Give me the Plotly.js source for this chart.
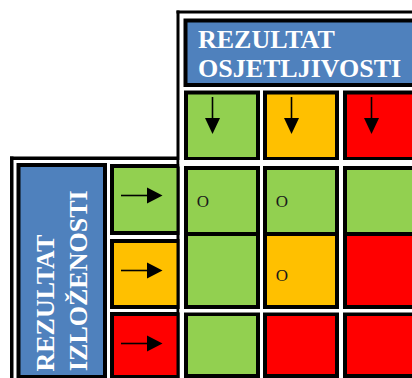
<!DOCTYPE html>
<html>
<head>
<meta charset="utf-8">
<script src="https://cdn.plot.ly/plotly-3.0.1.min.js"></script>
<style>html,body{margin:0;padding:0;background:#fff;}#chart{width:412px;height:378px;}</style>
</head>
<body>
<div id="chart"></div>
<script>
// ---- data ----
const levels = ['nisko', 'srednje', 'visoko'];
const sensitivityLevels = ['nisko', 'srednje', 'visoko'];   // column headers (arrows down)
const exposureLevels = ['nisko', 'srednje', 'visoko'];      // row headers (arrows right)
const riskMatrix = [
  ['nisko', 'nisko', 'nisko'],
  ['nisko', 'srednje', 'visoko'],
  ['nisko', 'visoko', 'visoko']
];
const markMatrix = [
  ['O', 'O', ''],
  ['', 'O', ''],
  ['', '', '']
];
const topTitle = ['REZULTAT', 'OSJETLJIVOSTI'];
const leftTitle = ['REZULTAT', 'IZLOŽENOSTI'];

// ---- style ----
const palette = {nisko: '#92D050', srednje: '#FFC000', visoko: '#FF0000'};
const BLUE = '#4F81BD', BLACK = '#000000', WHITE = '#FFFFFF';
const FONT = '"Liberation Serif", "Times New Roman", serif';

// ---- geometry (screen-like coordinates on hidden axes) ----
const colX = [[188, 256], [267, 335], [347, 418]];
const headerY = [94.5, 157];
const rowY = [[170, 232], [236, 305], [316, 374]];
const leftRowY = [[168, 231], [243, 305], [316, 375]];
const leftCellX = [114, 179];
const B = 4;

const shapes = [];
function rect(x0, x1, y0, y1, color) {
  shapes.push({type: 'rect', xref: 'x', yref: 'y', x0: x0, x1: x1, y0: y0, y1: y1,
    fillcolor: color, line: {width: 0}, layer: 'below'});
}
function cell(x0, x1, y0, y1, color) {
  rect(x0 - B, x1 + B, y0 - B, y1 + B, BLACK);
  rect(x0, x1, y0, y1, color);
}
function tri(pts) {
  const d = 'M' + pts.map(p => p[0] + ',' + p[1]).join(' L') + ' Z';
  shapes.push({type: 'path', xref: 'x', yref: 'y', path: d, fillcolor: BLACK,
    line: {width: 0}, layer: 'below'});
}
function seg(x0, y0, x1, y1) {
  shapes.push({type: 'line', xref: 'x', yref: 'y', x0: x0, y0: y0, x1: x1, y1: y1,
    line: {color: BLACK, width: 1.6}, layer: 'below'});
}

// left panel (exposure)
rect(10, 177, 156.5, 160, BLACK);
rect(10, 13.5, 156.5, 378, BLACK);
rect(16.5, 107, 163, 380, BLACK);
rect(20.5, 103, 167, 375, BLUE);
exposureLevels.forEach((lv, i) => {
  const [y0, y1] = leftRowY[i];
  cell(leftCellX[0], leftCellX[1], y0, y1, palette[lv]);
  const yc = y0 + 27.5;
  seg(121, yc, 150, yc);
  tri([[147, yc - 8], [147, yc + 8], [162.5, yc]]);
});

// right panel (sensitivity + matrix)
rect(179.5, 412, 13.5, 378, WHITE);
rect(176.5, 179.5, 10.5, 378, BLACK);
rect(176.5, 412, 10.5, 13.5, BLACK);
rect(183.5, 420, 18.5, 87, BLACK);
rect(187.5, 420, 22.5, 83, BLUE);
rect(183.5, 420, 87, 90.5, WHITE);
sensitivityLevels.forEach((lv, j) => {
  const [x0, x1] = colX[j];
  cell(x0, x1, headerY[0], headerY[1], palette[lv]);
  const xc = x0 + 24.5;
  seg(xc, 97, xc, 121);
  tri([[xc - 7.5, 118], [xc + 7.5, 118], [xc, 134]]);
});
rect(179.5, 412, 160, 166.5, WHITE);
riskMatrix.forEach((row, i) => {
  row.forEach((lv, j) => {
    const [x0, x1] = colX[j];
    const [y0, y1] = rowY[i];
    cell(x0, x1, y0, y1, palette[lv]);
  });
});
// white gap between row 2 and 3 of matrix
rect(179.5, 412, 309, 312.5, WHITE);
colX.forEach(([x0, x1], j) => { if (j > 0) rect(colX[j-1][1] + B, x0 - B, 90.5, 378, WHITE); });

// marks
const mx = [], my = [], mt = [];
markMatrix.forEach((row, i) => row.forEach((m, j) => {
  if (m) {
    mx.push(colX[j][0] + 15);
    my.push((rowY[i][0] + rowY[i][1]) / 2 + (i === 0 ? 2 : 6));
    mt.push(m);
  }
}));

const annotations = [];
topTitle.forEach((t, k) => {
  annotations.push({xref: 'x', yref: 'y', x: 196, y: 39.5 + k * 28.5, text: '<b>' + t + '</b>',
    showarrow: false, xanchor: 'left', yanchor: 'middle',
    font: {family: FONT, size: 26, color: WHITE}});
});
leftTitle.forEach((t, k) => {
  annotations.push({xref: 'x', yref: 'y', x: 44.5 + k * 33.5, y: 373.5, text: '<b>' + t + '</b>',
    showarrow: false, xanchor: 'center', yanchor: 'bottom', textangle: -90,
    font: {family: FONT, size: 26, color: WHITE}});
});

const data = [{
  type: 'scatter', mode: 'text', x: mx, y: my, text: mt,
  textposition: 'middle center', hoverinfo: 'skip', cliponaxis: false,
  textfont: {family: FONT, size: 17, color: '#1a1a1a'}
}];

const layout = {
  width: 412, height: 378,
  margin: {l: 0, r: 0, t: 0, b: 0, pad: 0},
  paper_bgcolor: WHITE, plot_bgcolor: WHITE,
  showlegend: false,
  xaxis: {range: [0, 412], visible: false, fixedrange: true},
  yaxis: {range: [378, 0], visible: false, fixedrange: true},
  shapes: shapes,
  annotations: annotations
};

Plotly.newPlot('chart', data, layout, {staticPlot: true, displayModeBar: false});
</script>
</body>
</html>
